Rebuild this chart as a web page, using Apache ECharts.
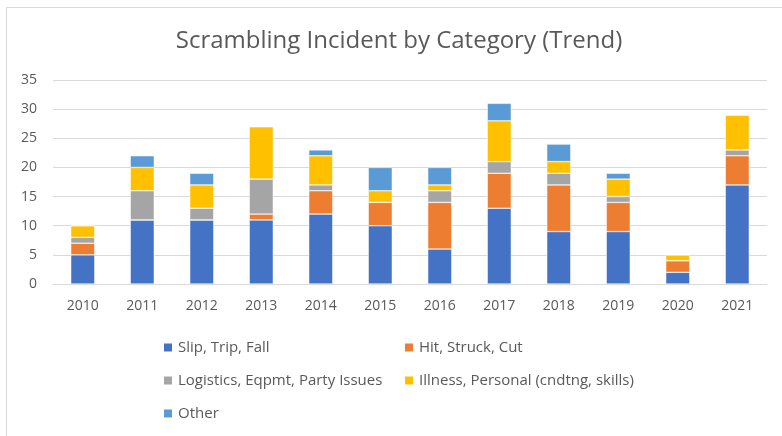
<!DOCTYPE html>
<html><head><meta charset="utf-8">
<script src="https://cdn.jsdelivr.net/npm/echarts@6/dist/echarts.min.js"></script>
<style>html,body{margin:0;padding:0;background:#fff}#c{width:782px;height:436px}</style>
</head><body><div id="c"></div>
<script>
const years = ['2010','2011','2012','2013','2014','2015','2016','2017','2018','2019','2020','2021'];
const seriesNames = ['Slip, Trip, Fall','Hit, Struck, Cut','Logistics, Eqpmt, Party Issues','Illness, Personal (cndtng, skills)','Other'];
const slipTripFall = [5,11,11,11,12,10,6,13,9,9,2,17];
const hitStruckCut = [2,0,0,1,4,4,8,6,8,5,2,5];
const logistics    = [1,5,2,6,1,0,2,2,2,1,0,1];
const illness      = [2,4,4,9,5,2,1,7,2,3,1,6];
const other        = [0,2,2,0,1,4,3,3,3,1,0,0];
const yTicks = [0,5,10,15,20,25,30,35];
const colors = ['#4472C4','#ED7D31','#A5A5A5','#FFC000','#5B9BD5'];

const values = [slipTripFall, hitStruckCut, logistics, illness, other];
const font = "'Open Sans', 'Noto Sans', sans-serif";
const chart = echarts.init(document.getElementById('c'));
const legendStyle = {color:'#595959', fontSize:15, fontFamily:font, lineHeight:19};
chart.setOption({
  animation:false,
  color: colors,
  graphic:[{type:'rect', shape:{x:6.5,y:7.5,width:900,height:600}, style:{fill:'none', stroke:'#d9d9d9', lineWidth:1}, silent:true}],
  title:{text:'Scrambling Incident by Category (Trend)', left:394, textAlign:'center', top:24,
    textStyle:{color:'#595959', fontSize:24, fontWeight:'normal', fontFamily:font}},
  grid:{left:53, right:15, top:80, bottom:152},
  legend:[
    {orient:'vertical', left:157, top:333, itemGap:14, itemWidth:10, itemHeight:10, icon:'rect',
     data:[seriesNames[0],seriesNames[2],seriesNames[4]], textStyle:legendStyle},
    {orient:'vertical', left:398, top:333, itemGap:14, itemWidth:10, itemHeight:10, icon:'rect',
     data:[seriesNames[1],seriesNames[3]], textStyle:legendStyle}
  ],
  xAxis:{type:'category', data:years, axisTick:{show:false},
    axisLine:{lineStyle:{color:'#d9d9d9', width:1}},
    axisLabel:{color:'#595959', fontSize:14, fontFamily:font, margin:15}},
  yAxis:{type:'value', min:yTicks[0], max:yTicks[yTicks.length-1], interval:5,
    axisLine:{show:false}, axisTick:{show:false},
    splitLine:{lineStyle:{color:'#d9d9d9', width:1}},
    axisLabel:{color:'#595959', fontSize:14, fontFamily:font, margin:16}},
  series: seriesNames.map((n,i)=>({name:n, type:'bar', stack:'total', barWidth:24,
    data:values[i], itemStyle:{color:colors[i], borderColor:'#fff', borderWidth:0.5}}))
});
</script></body></html>
